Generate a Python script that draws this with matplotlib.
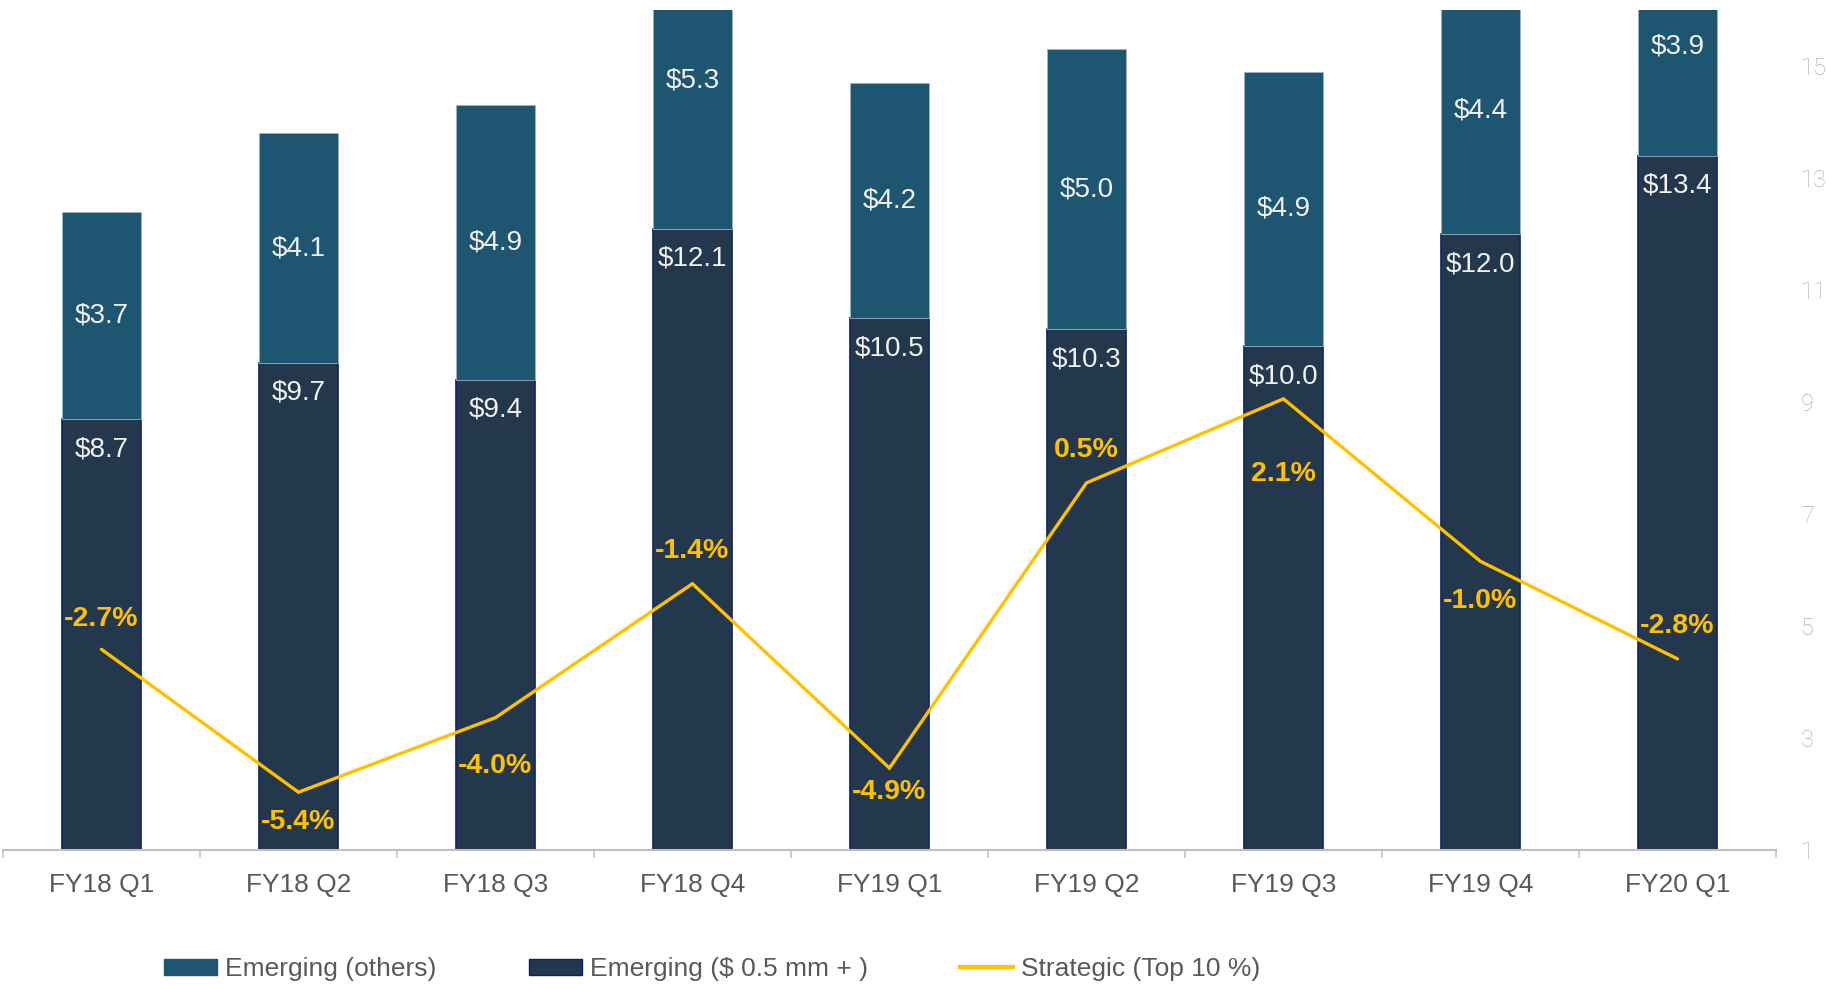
import matplotlib

matplotlib.use("Agg")

import matplotlib.pyplot as plt
from matplotlib.lines import Line2D
from matplotlib.patches import Patch
import numpy as np

plt.rcParams["font.family"] = ["Liberation Sans", "DejaVu Sans"]

quarters = ["FY18 Q1", "FY18 Q2", "FY18 Q3", "FY18 Q4", "FY19 Q1",
            "FY19 Q2", "FY19 Q3", "FY19 Q4", "FY20 Q1"]
emerging_big = [8.7, 9.7, 9.4, 12.1, 10.5, 10.3, 10.0, 12.0, 13.4]
emerging_others = [3.7, 4.1, 4.9, 5.3, 4.2, 5.0, 4.9, 4.4, 3.9]
strategic_level = [4.59, 2.04, 3.37, 5.76, 2.47, 7.56, 9.06, 6.16, 4.42]
strategic_labels = ["-2.7%", "-5.4%", "-4.0%", "-1.4%", "-4.9%",
                    "0.5%", "2.1%", "-1.0%", "-2.8%"]
right_ticks = [1, 3, 5, 7, 9, 11, 13, 15]

# label offsets in pixels (above / below the line point)
label_dy = [30, -30, -48, 33, -24, 33, -75, -40, 33]

C_TOP = "#1E5672"
C_BOT = "#23374D"
C_EDGE = "#0D2463"
C_LINE = "#FFC000"

fig = plt.figure(figsize=(18.26, 9.88), dpi=100)
ax = fig.add_axes([0.0016, 0.1392, 0.971, 0.8507])

x = np.arange(len(quarters))
w = 0.4
bot = np.array(emerging_big)
top = np.array(emerging_others)

ax.bar(x, bot, w, color=C_BOT, edgecolor=C_EDGE, linewidth=1.2, zorder=2)
ax.bar(x, top, w, bottom=bot, color=C_TOP, edgecolor="#9DB3C6", linewidth=0.6, zorder=2)
ax.plot(x, strategic_level, color=C_LINE, linewidth=2.4, solid_capstyle="round",
        solid_joinstyle="miter", zorder=3)

for i in range(len(quarters)):
    ax.annotate("$%.1f" % bot[i], (x[i], bot[i]), xytext=(0, -30), textcoords="offset pixels",
                ha="center", va="center", color="#F2F2F2", fontsize=20, zorder=4)
    ax.text(x[i], bot[i] + top[i] / 2, "$%.1f" % top[i], ha="center", va="center",
            color="#F2F2F2", fontsize=20, zorder=4)
    ax.annotate(strategic_labels[i], (x[i], strategic_level[i]), xytext=(0, label_dy[i]),
                textcoords="offset pixels", ha="center", va="center", color=C_LINE,
                fontsize=20.5, fontweight="bold", zorder=5)

ax.set_xlim(-0.5, len(quarters) - 0.5)
ax.set_ylim(1, 16)

ax.set_xticks(x)
ax.set_xticklabels(quarters, fontsize=19, color="#595959")
ax.set_xticks(np.arange(len(quarters) + 1) - 0.5, minor=True)
ax.tick_params(axis="x", which="major", length=0, pad=16)
ax.tick_params(axis="x", which="minor", length=6, width=1.1, color="#BFBFBF")

ax.yaxis.tick_right()
ax.set_yticks(right_ticks)
ax.set_yticklabels([str(t) for t in right_ticks], fontsize=17, color="#B0B0B0",
                   family=["Roboto", "Liberation Sans"], fontweight="light")
ax.tick_params(axis="y", length=0, pad=18)

for side in ["top", "left", "right"]:
    ax.spines[side].set_visible(False)
ax.spines["bottom"].set_color("#BFBFBF")
ax.spines["bottom"].set_linewidth(1.5)

handles = [
    Patch(facecolor=C_TOP, edgecolor=C_TOP),
    Patch(facecolor=C_BOT, edgecolor=C_EDGE),
    Line2D([0], [0], color=C_LINE, linewidth=3),
]
names = ["Emerging (others)", "Emerging ($ 0.5 mm + )", "Strategic (Top 10 %)"]
leg = fig.legend(handles, names, loc="center", bbox_to_anchor=(0.39, 0.019), ncol=3,
                 frameon=False, fontsize=19, handlelength=2.0, handleheight=0.6,
                 handletextpad=0.3, columnspacing=3.5, borderpad=0)
for t in leg.get_texts():
    t.set_color("#595959")

fig.savefig("out.png", dpi=100)
